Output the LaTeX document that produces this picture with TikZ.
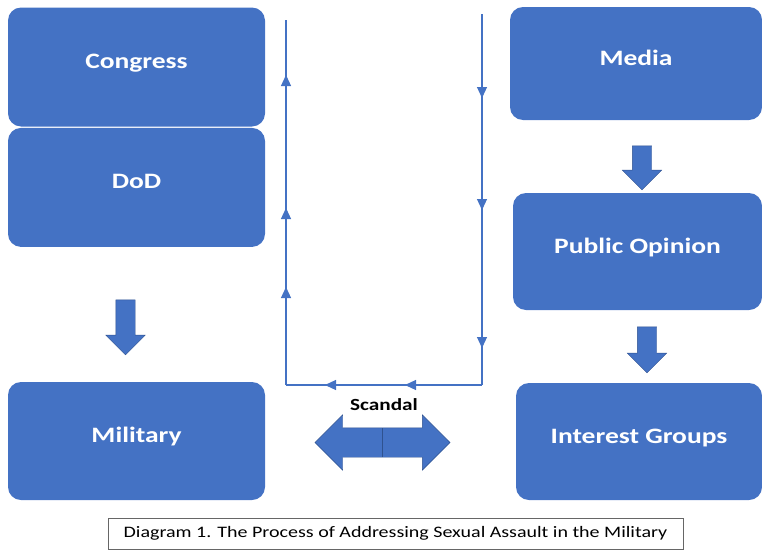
\documentclass[tikz,border=0pt]{standalone}
\usepackage{fontspec}
\setmainfont[FakeStretch=1.25]{Carlito}
\usepackage{tikz}
\usetikzlibrary{positioning,shapes.arrows,arrows.meta,decorations.markings}
\definecolor{officeblue}{HTML}{4472C4}
\definecolor{darkblue}{HTML}{2F528F}

\begin{document}
\begin{tikzpicture}[
    x=1pt, y=-1pt,
    >={Triangle[width=10pt,length=11pt]},
    actor/.style={rectangle, fill=officeblue, rounded corners=13pt, minimum width=257pt, minimum height=119pt, text=white, font=\bfseries\fontsize{22}{26}\selectfont, inner sep=0pt, text height=15pt, text depth=12pt},
    downarrow/.style={single arrow, draw=darkblue, fill=officeblue, minimum height=55pt, minimum width=39pt, inner sep=9.5pt, single arrow head extend=10pt, shape border rotate=270},
    flow/.style={officeblue, line width=1.2pt}
]
    \useasboundingbox (0,0) rectangle (762,554);
    % left column
    \node[actor] (congress) at (136.5,67) {Congress};
    \node[actor, below=1pt of congress] (dod) {DoD};
    \node[actor, minimum height=118pt] (military) at (136.5,441) {Military};
    % right column
    \node[actor, minimum width=252pt, minimum height=113pt] (media) at (636,63.5) {Media};
    \node[actor, minimum width=249pt, minimum height=117pt] (opinion) at (637.5,251.5) {Public Opinion};
    \node[actor, minimum width=246pt, minimum height=117pt] (groups) at (639,441.5) {Interest Groups};

    % block arrows
    \node[downarrow] (dodarrow) at (125.5,322.5) {};
    \node[downarrow, minimum height=44pt] (mediaarrow) at (642,163) {};
    \node[downarrow, minimum height=46pt] (opinionarrow) at (647,345) {};

    % feedback loop
    \coordinate (rtop) at (482,14);
    \coordinate (rbot) at (482,385);
    \coordinate (lbot) at (286,385);
    \coordinate (ltop) at (286,20);
    \draw[flow, postaction={decorate}, decoration={markings,
        mark=at position 84pt with {\arrow{>}},
        mark=at position 196pt with {\arrow{>}},
        mark=at position 334pt with {\arrow{>}}}] (rtop) -- (rbot);
    \draw[flow, postaction={decorate}, decoration={markings,
        mark=at position 77pt with {\arrow{>}},
        mark=at position 157pt with {\arrow{>}}}] (rbot) -- (lbot);
    \draw[flow, postaction={decorate}, decoration={markings,
        mark=at position 98pt with {\arrow{>}},
        mark=at position 177pt with {\arrow{>}},
        mark=at position 310pt with {\arrow{>}}}] (lbot) -- (ltop);

    % scandal
    \node[font=\bfseries\fontsize{17}{20}\selectfont] (scandal) at (384,405) {Scandal};
    \node[double arrow, draw=darkblue, fill=officeblue, minimum height=135pt, minimum width=55pt, inner sep=14.5pt, double arrow head extend=13pt] (scandalarrow) at (382.5,442.5) {};
    \draw[darkblue, line width=1.2pt] ([yshift=-14.5pt]scandalarrow.center) -- ([yshift=14.5pt]scandalarrow.center);

    % caption
    \node[draw=black!60, line width=0.8pt, minimum width=575pt, minimum height=31pt, font=\fontsize{16}{19}\selectfont] (caption) at (395.5,533.5) {Diagram 1. The Process of Addressing Sexual Assault in the Military};
\end{tikzpicture}
\end{document}
